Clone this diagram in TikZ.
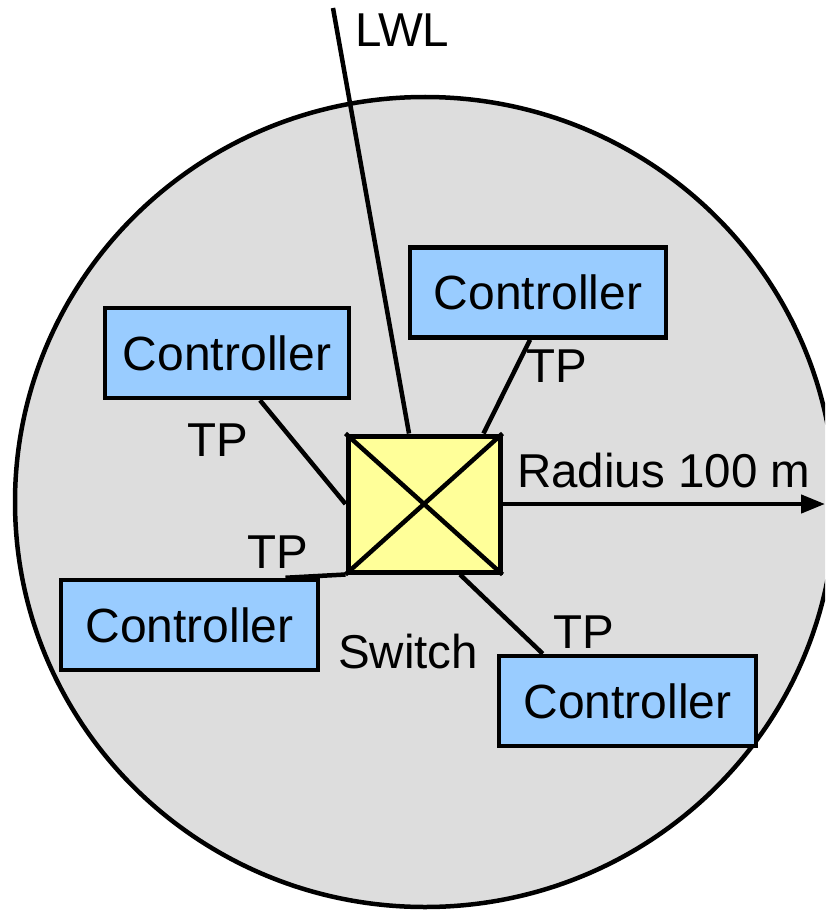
\documentclass[tikz,border=0pt]{standalone}
\usepackage{fontspec}
\setmainfont{Liberation Sans}
\usetikzlibrary{arrows.meta,calc}
\definecolor{areagray}{HTML}{DDDDDD}
\definecolor{ctrlblue}{HTML}{99CCFF}
\definecolor{swyellow}{HTML}{FFFF99}
\tikzset{
  ctrl/.style={draw=black, line width=4.5pt, fill=ctrlblue, inner sep=0pt,
    minimum width=256pt, minimum height=90pt, font=\fontsize{48}{56}\selectfont},
  lbl/.style={inner sep=0pt, anchor=base west, font=\fontsize{47.5}{56}\selectfont},
  wire/.style={line width=4.5pt},
}
\begin{document}
\begin{tikzpicture}[x=1pt,y=-1pt]
\useasboundingbox (0,0) rectangle (825,912);
\begin{scope}
\clip (0,0) rectangle (825,912);
\draw[line width=4.5pt, fill=areagray] (425,502) ellipse [x radius=410, y radius=405];
\end{scope}
\node[draw=black, line width=5pt, fill=swyellow, minimum width=152pt, minimum height=136pt, inner sep=0pt] (sw) at (424,504) {};
\draw[wire] (sw.north west) -- (sw.south east);
\draw[wire] (sw.north east) -- (sw.south west);
\node[ctrl] (c1) at (538,292.5) {Controller};
\node[ctrl, minimum width=244pt] (c2) at (227,353) {Controller};
\node[ctrl, minimum width=257pt] (c3) at (189.5,625) {Controller};
\node[ctrl, minimum width=257pt] (c4) at (627.5,701) {Controller};
\coordinate (lwltop) at (333,8);
\draw[wire] (lwltop) -- ([xshift=-15pt]sw.north);
\draw[wire] ([xshift=-8pt]c1.south) -- ([xshift=-19pt]sw.north east);
\draw[wire] ([xshift=33pt]c2.south) -- (sw.west);
\draw[wire] (sw.south west) -- ([xshift=96pt]c3.north);
\draw[wire] ([xshift=36pt]sw.south) -- ([xshift=46pt]c4.north west);
\coordinate (radend) at (825,504);
\draw[wire, -{Triangle[length=24pt,width=18pt]}] (sw.east) -- (radend);
\node[lbl] (tlwl) at (355,47) {LWL};
\node[lbl] (tp1) at (526,382) {TP};
\node[lbl] (tp2) at (187,456) {TP};
\node[lbl] (trad) at (517,487) {Radius 100 m};
\node[lbl] (tp3) at (247,568) {TP};
\node[lbl] (tsw) at (338,668) {Switch};
\node[lbl] (tp4) at (553,648) {TP};
\end{tikzpicture}
\end{document}
